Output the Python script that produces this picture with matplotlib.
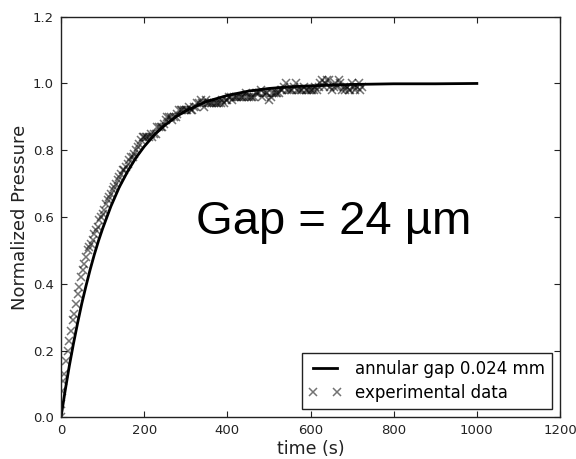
import matplotlib
matplotlib.use('Agg')
import matplotlib.pyplot as plt

# ── Data ──────────────────────────────────────────────────────────────────────
# model curve, annular gap 0.024 mm
fit_t = [0, 10, 20, 30, 40, 50, 60, 70, 80, 90, 100, 120, 140, 160, 180, 200,
         225, 250, 275, 300, 350, 400, 450, 500, 550, 600, 700, 800, 900, 1000]
fit_p = [0.000, 0.080, 0.154, 0.221, 0.283, 0.341, 0.393, 0.442, 0.487, 0.528,
         0.565, 0.632, 0.689, 0.736, 0.777, 0.811, 0.847, 0.875, 0.899, 0.918,
         0.946, 0.964, 0.977, 0.985, 0.990, 0.993, 0.997, 0.999, 0.999, 1.000]

# experimental data
exp_t = [0, 1, 2, 4, 8, 12, 16, 20, 24, 28, 32, 36, 40, 44, 48, 52, 56, 60,
         64, 68, 72, 76, 80, 84, 88, 92, 96, 100, 104, 108, 112, 116, 120,
         124, 128, 132, 136, 140, 144, 148, 152, 156, 160, 164, 168, 172, 176,
         180, 184, 188, 192, 196, 200, 204, 208, 212, 216, 220, 224, 228, 232,
         236, 240, 244, 248, 252, 256, 260, 264, 268, 272, 276, 280, 284, 288,
         292, 296, 300, 304, 308, 312, 316, 320, 324, 328, 332, 336, 340, 344,
         348, 352, 356, 360, 364, 368, 372, 376, 380, 384, 388, 392, 396, 400,
         404, 408, 412, 416, 420, 424, 428, 432, 436, 440, 444, 448, 452, 456,
         460, 464, 468, 472, 476, 480, 484, 488, 492, 496, 500, 504, 508, 512,
         516, 520, 524, 528, 532, 536, 540, 544, 548, 552, 556, 560, 564, 568,
         572, 576, 580, 584, 588, 592, 596, 600, 604, 608, 612, 616, 620, 624,
         628, 632, 636, 640, 644, 648, 652, 656, 660, 664, 668, 672, 676, 680,
         684, 688, 692, 696, 700, 704, 708, 712, 716, 720, 724]
exp_p = [0.00, 0.04, 0.08, 0.11, 0.13, 0.17, 0.20, 0.23, 0.26, 0.29, 0.31, 0.34,
         0.37, 0.39, 0.42, 0.44, 0.46, 0.48, 0.50, 0.51, 0.52, 0.53, 0.55, 0.56,
         0.57, 0.59, 0.60, 0.61, 0.62, 0.64, 0.65, 0.66, 0.67,
         0.68, 0.69, 0.70, 0.71, 0.72, 0.73, 0.74, 0.74, 0.75, 0.76, 0.77, 0.78,
         0.78, 0.79, 0.80, 0.81, 0.82, 0.83, 0.84, 0.84, 0.84, 0.84, 0.84, 0.85,
         0.84, 0.85, 0.85, 0.87, 0.87, 0.87, 0.87, 0.88, 0.89, 0.90, 0.90, 0.90,
         0.89, 0.90, 0.90, 0.91, 0.92, 0.92, 0.92, 0.92, 0.92, 0.92, 0.93, 0.92,
         0.92, 0.93, 0.93, 0.94, 0.94, 0.95, 0.94, 0.93, 0.95, 0.94, 0.94, 0.94,
         0.94, 0.94, 0.94, 0.94, 0.94, 0.94, 0.95, 0.94, 0.95, 0.95, 0.96, 0.96,
         0.95, 0.96, 0.96, 0.96, 0.96, 0.96, 0.96, 0.96, 0.97, 0.96, 0.96, 0.96,
         0.96, 0.96, 0.97, 0.97, 0.97, 0.98, 0.96, 0.97, 0.97, 0.97, 0.95, 0.96,
         0.97, 0.97, 0.97, 0.97, 0.97, 0.98, 0.98, 0.99, 1.00, 0.98, 0.98, 0.98,
         0.98, 0.99, 1.00, 0.98, 0.98, 0.98, 0.98, 0.99, 0.98, 0.98, 0.98, 0.98,
         0.98, 0.98, 0.99, 0.98, 0.99, 1.00, 1.01, 0.99, 1.00, 1.01, 1.01, 0.99,
         0.98, 0.99, 1.00, 0.99, 1.01, 1.00, 0.98, 0.99, 0.98, 0.99, 0.98, 0.98,
         1.00, 0.99, 0.98, 0.99, 1.00, 0.98, 0.99]

x_ticks = [0, 200, 400, 600, 800, 1000, 1200]
y_ticks = [0.0, 0.2, 0.4, 0.6, 0.8, 1.0, 1.2]

# ── Plot ───────────────────────────────────────────────────────────────────────
plt.rcParams['font.family'] = 'DejaVu Sans'

fig = plt.figure(figsize=(5.76, 4.59), dpi=100)
ax = fig.add_axes([61 / 576, 1 - 417.3 / 459, 499 / 576, 400.6 / 459])

ax.plot(fit_t, fit_p, color='k', lw=2, label='annular gap 0.024 mm')
ax.plot(exp_t, exp_p, ls='none', marker='x', ms=6, mew=1.1,
        color='k', alpha=0.55, label='experimental data')

ax.set_xlim(0, 1200)
ax.set_ylim(0, 1.2)
ax.set_xticks(x_ticks)
ax.set_yticks(y_ticks)
ax.tick_params(direction='in', top=True, right=True, length=4, width=0.8,
               labelsize=9.5, pad=5, colors='#222222')
for s in ax.spines.values():
    s.set_linewidth(1.0)
    s.set_color('#222222')

ax.set_xlabel('time (s)', fontsize=12.5, color='#222222', labelpad=2)
ax.set_ylabel('Normalized Pressure', fontsize=13, color='#222222', labelpad=3)

ax.text(325, 0.548, 'Gap = 24 \u00b5m', fontsize=34,
        family='Liberation Sans', ha='left', va='baseline')

leg = ax.legend(loc='lower right', numpoints=2, fontsize=12,
                fancybox=False, framealpha=1, edgecolor='#222222',
                handlelength=2.0, borderpad=0.4, labelspacing=0.4)
leg.get_frame().set_linewidth(1.0)

fig.savefig('out.png', dpi=100, facecolor='white')
